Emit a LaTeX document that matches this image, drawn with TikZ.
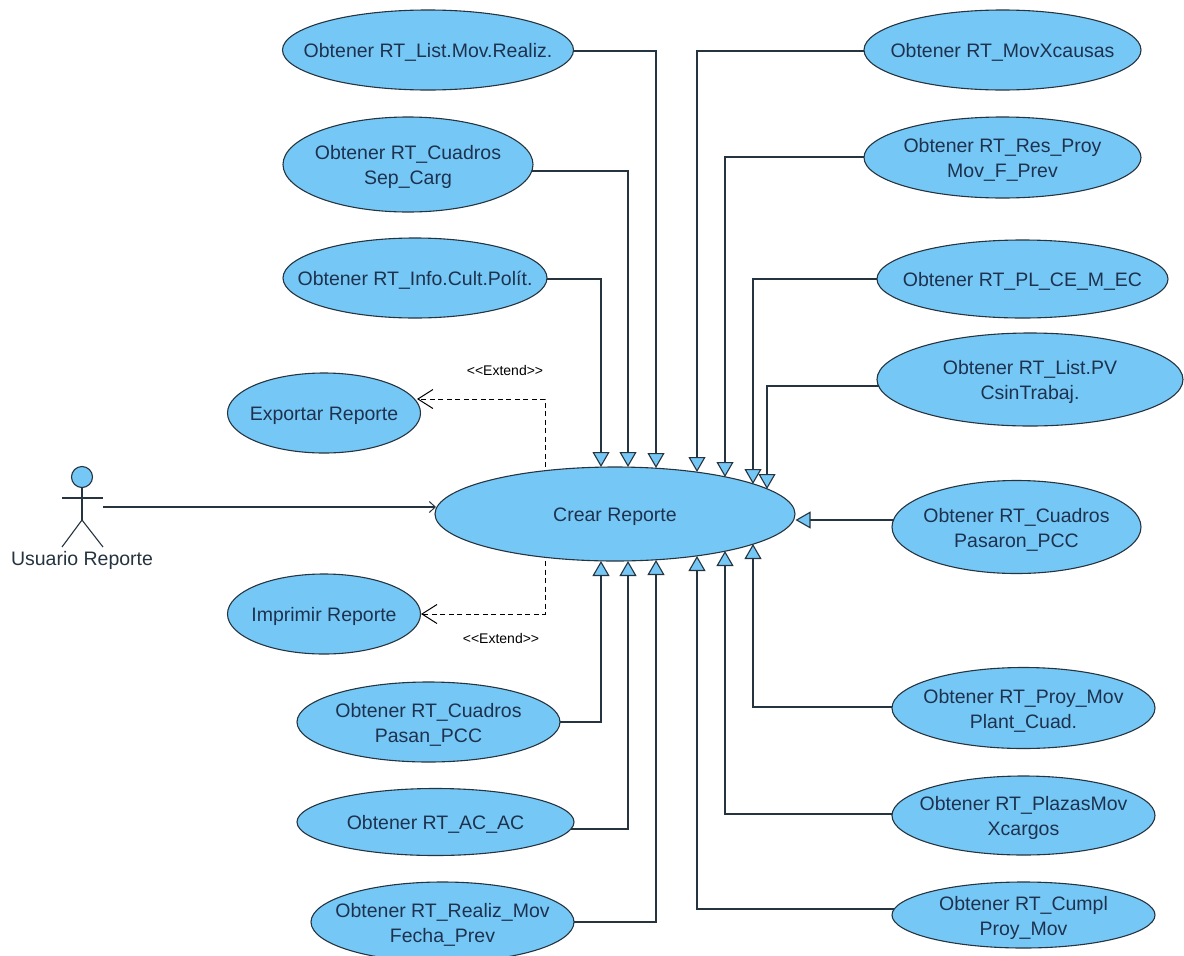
\documentclass[tikz,border=0pt]{standalone}
\usepackage{fontspec}
\setmainfont{Liberation Sans}
\usetikzlibrary{arrows.meta,shapes.geometric,backgrounds}
\definecolor{ucblue}{RGB}{117,200,245}
\definecolor{ucline}{RGB}{38,52,64}
\definecolor{uctext}{RGB}{30,50,80}
\newcommand{\ucdrop}{\rule{0pt}{19.5pt}}
\tikzset{
  usecase/.style={ellipse, draw=ucline, fill=ucblue, line width=1.1pt, inner xsep=-40pt, inner ysep=-10pt,
    text=uctext, align=center, font=\fontsize{19.5}{25}\selectfont},
  gen/.style={draw=ucline, line width=1.1pt, -{Triangle[length=15pt,width=17pt,fill=ucblue,line width=1.1pt]}},
  assoc/.style={draw=ucline, line width=1.1pt, -{Straight Barb[length=6pt,width=11pt,line width=1pt]}},
  extend/.style={draw=black, line width=1pt, dash pattern=on 5pt off 3.5pt, -{Straight Barb[length=15pt,width=19pt,line width=1pt]}},
  limb/.style={draw=ucline, line width=1.1pt},
  stereo/.style={font=\fontsize{14}{16}\selectfont, text=black, inner sep=0pt}
}
\begin{document}
\begin{tikzpicture}[x=1pt,y=-1pt]
  \useasboundingbox (0,0) rectangle (1184,956);

  % Central use case
  \node[usecase, minimum width=360pt, minimum height=94pt] (crear) at (615,514) {\ucdrop Crear Reporte};

  % Use cases on the left
  \node[usecase, minimum width=291pt, minimum height=80pt] (list) at (428,50) {\ucdrop Obtener RT\_List.Mov.Realiz.};
  \node[usecase, minimum width=250pt, minimum height=95pt] (sep) at (408,164.5) {\ucdrop Obtener RT\_Cuadros\\Sep\_Carg};
  \node[usecase, minimum width=264pt, minimum height=80pt] (info) at (415,278) {\ucdrop Obtener RT\_Info.Cult.Polít.};
  \node[usecase, minimum width=193pt, minimum height=80pt] (exportar) at (324,413) {\ucdrop Exportar Reporte};
  \node[usecase, minimum width=193pt, minimum height=80pt] (imprimir) at (324,614) {\ucdrop Imprimir Reporte};
  \node[usecase, minimum width=263pt, minimum height=80pt] (pasan) at (428.5,722) {\ucdrop Obtener RT\_Cuadros\\Pasan\_PCC};
  \node[usecase, minimum width=277pt, minimum height=67pt] (acac) at (435.5,822) {\ucdrop Obtener RT\_AC\_AC};
  \node[usecase, minimum width=263pt, minimum height=80pt] (realiz) at (442.5,922) {\ucdrop Obtener RT\_Realiz\_Mov\\Fecha\_Prev};

  % Use cases on the right
  \node[usecase, minimum width=277pt, minimum height=80pt] (causas) at (1002.5,50) {\ucdrop Obtener RT\_MovXcausas};
  \node[usecase, minimum width=277pt, minimum height=81pt] (resproy) at (1002.5,157.5) {\ucdrop Obtener RT\_Res\_Proy\\Mov\_F\_Prev};
  \node[usecase, minimum width=291pt, minimum height=78pt] (plce) at (1022.5,279) {\ucdrop Obtener RT\_PL\_CE\_M\_EC};
  \node[usecase, minimum width=306pt, minimum height=93pt] (listpv) at (1030,379.5) {\ucdrop Obtener RT\_List.PV\\CsinTrabaj.};
  \node[usecase, minimum width=249pt, minimum height=93pt] (pasaron) at (1016.5,527) {\ucdrop Obtener RT\_Cuadros\\Pasaron\_PCC};
  \node[usecase, minimum width=263pt, minimum height=81pt] (proymov) at (1023.5,708) {\ucdrop Obtener RT\_Proy\_Mov\\Plant\_Cuad.};
  \node[usecase, minimum width=263pt, minimum height=79pt] (plazas) at (1023.5,815.5) {\ucdrop Obtener RT\_PlazasMov\\Xcargos};
  \node[usecase, minimum width=263pt, minimum height=66pt] (cumpl) at (1023.5,915) {\ucdrop Obtener RT\_Cumpl\\Proy\_Mov};

  % Actor
  \node[circle, draw=ucline, fill=ucblue, line width=1.1pt, minimum size=21pt, inner sep=0pt] (head) at (82,477) {};
  \coordinate (neck) at (82,520);
  \draw[limb] (head.south) -- (neck);
  \draw[limb] (62,498) -- (103,498);
  \draw[limb] (62,547) -- (neck) -- (103,547);
  \node[font=\fontsize{19.5}{23}\selectfont, text=ucline, inner sep=0pt] (usuario) at (82,560) {Usuario Reporte};
  \coordinate (hand) at (103,507);
  \draw[assoc] (hand) -- (436,507);

  % Points on the border of the central ellipse
  \foreach \name/\x/\y in {t1/601/467, t2/628/467, t3/656/468, t4/697/472, t5/725/477, t6/753/484, t7/767/489,
                           b1/601/561, b2/628/561, b3/656/560, b4/697/556, b5/725/551, b6/753/544} {
    \coordinate (\name) at (\x,\y);
  }

  % Generalizations, started inside the ellipses and kept behind them
  \begin{pgfonlayer}{background}
    \fill[white] (0,0) rectangle (1184,956);
    \foreach \src/\dst/\y in {list/t3/51, sep/t2/171, info/t1/279, pasan/b1/722, acac/b2/829, realiz/b3/922,
                              causas/t4/51, resproy/t5/157, plce/t6/279, listpv/t7/386, proymov/b6/707, plazas/b5/814, cumpl/b4/909} {
      \draw[gen] (\src.center |- 0,\y) -| (\dst);
    }
    \draw[gen] (pasaron.center |- 0,520) -- (crear.east |- 0,520);
  \end{pgfonlayer}

  % Extend relations
  \coordinate (exptip) at (417,399);
  \draw[extend] (545,467) |- (exptip);
  \draw[extend] (545,561) |- (imprimir.east |- 0,614);
  \node[stereo] (ext1) at (505,370) {{<}{<}Extend{>}{>}};
  \node[stereo] (ext2) at (501,638) {{<}{<}Extend{>}{>}};
\end{tikzpicture}
\end{document}
